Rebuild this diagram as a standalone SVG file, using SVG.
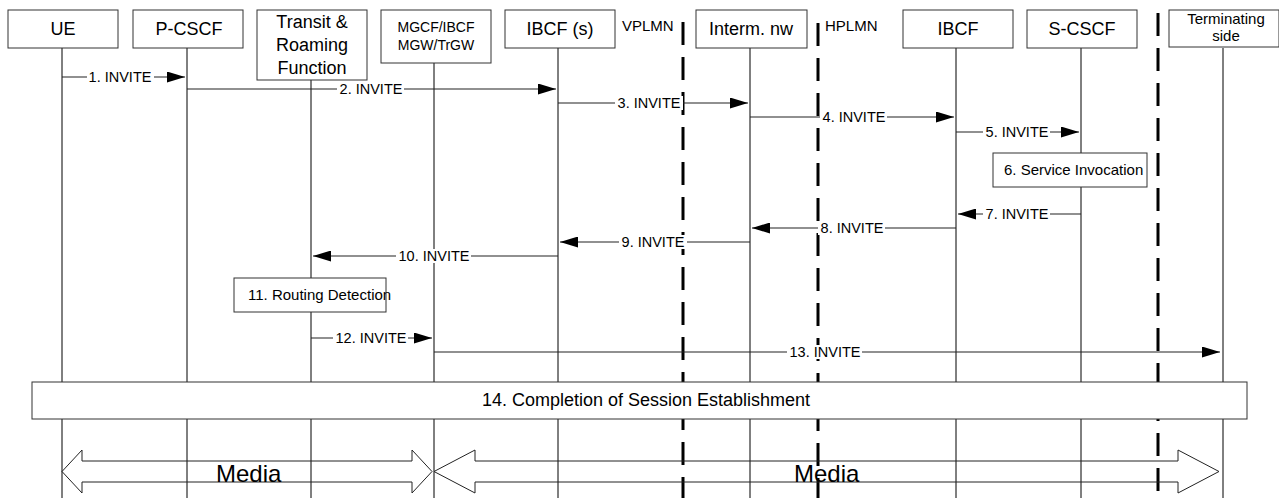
<svg xmlns="http://www.w3.org/2000/svg" width="1279" height="498" viewBox="0 0 1279 498">
<defs>
<style>
.box{fill:#fff;stroke:#333;stroke-width:1}
.life{stroke:#000;stroke-width:1}
.dash{stroke:#000;stroke-width:3;stroke-dasharray:23 12}
.msg{stroke:#222;stroke-width:1.2;fill:none}
.lbg{fill:#fff}
.t17{font-family:"Liberation Sans",Arial,sans-serif;font-size:18px;fill:#000;text-anchor:middle}
.t14{font-family:"Liberation Sans",Arial,sans-serif;font-size:14px;fill:#000;text-anchor:middle}
.t15{font-family:"Liberation Sans",Arial,sans-serif;font-size:15px;fill:#000}
.lbl{font-family:"Liberation Sans",Arial,sans-serif;font-size:14.5px;fill:#000;text-anchor:middle}
.media{font-family:"Liberation Sans",Arial,sans-serif;font-size:24px;fill:#000}
.marrow{fill:none;stroke:#222;stroke-width:1}
</style>
<marker id="ah" markerUnits="userSpaceOnUse" markerWidth="18" markerHeight="11" refX="18" refY="5.5" orient="auto">
<path d="M0,0 L18,5.5 L0,11 z" fill="#000"/>
</marker>
</defs>
<rect width="1279" height="498" fill="#fff"/>

<g id="lifelines">
<line class="life" x1="62" y1="48" x2="62" y2="498"/>
<line class="life" x1="187" y1="48" x2="187" y2="498"/>
<line class="life" x1="311" y1="80" x2="311" y2="498"/>
<line class="life" x1="434" y1="63" x2="434" y2="498"/>
<line class="life" x1="558" y1="48" x2="558" y2="498"/>
<line class="life" x1="750" y1="48" x2="750" y2="498"/>
<line class="life" x1="956" y1="48" x2="956" y2="498"/>
<line class="life" x1="1081" y1="48" x2="1081" y2="498"/>
<line class="life" x1="1223" y1="48" x2="1223" y2="498"/>
</g>

<g id="boundaries">
<line class="dash" x1="683" y1="22" x2="683" y2="498"/>
<line class="dash" x1="818" y1="23" x2="818" y2="498"/>
<line class="dash" x1="1158" y1="13" x2="1158" y2="498"/>
<text class="t15" x="622" y="31">VPLMN</text>
<text class="t15" x="825" y="31">HPLMN</text>
</g>

<g id="connectors">
<line class="msg" x1="62" y1="77" x2="185" y2="77" marker-end="url(#ah)"/>
<rect class="lbg" x="87" y="70" width="67" height="14"/>
<text class="lbl" x="120" y="82">1. INVITE</text>

<line class="msg" x1="187" y1="89" x2="556" y2="89" marker-end="url(#ah)"/>
<rect class="lbg" x="337" y="82" width="67" height="14"/>
<text class="lbl" x="371" y="94">2. INVITE</text>

<line class="msg" x1="558" y1="103" x2="748" y2="103" marker-end="url(#ah)"/>
<rect class="lbg" x="615" y="96" width="68" height="14"/>
<text class="lbl" x="649" y="108">3. INVITE</text>

<line class="msg" x1="750" y1="117" x2="954" y2="117" marker-end="url(#ah)"/>
<rect class="lbg" x="820" y="110" width="67" height="14"/>
<text class="lbl" x="854" y="122">4. INVITE</text>

<line class="msg" x1="956" y1="132" x2="1079" y2="132" marker-end="url(#ah)"/>
<rect class="lbg" x="983" y="125" width="67" height="14"/>
<text class="lbl" x="1017" y="137">5. INVITE</text>

<line class="msg" x1="1081" y1="214" x2="958" y2="214" marker-end="url(#ah)"/>
<rect class="lbg" x="983" y="207" width="67" height="14"/>
<text class="lbl" x="1017" y="219">7. INVITE</text>

<line class="msg" x1="956" y1="228" x2="752" y2="228" marker-end="url(#ah)"/>
<rect class="lbg" x="818" y="221" width="67" height="14"/>
<text class="lbl" x="852" y="233">8. INVITE</text>

<line class="msg" x1="750" y1="242" x2="560" y2="242" marker-end="url(#ah)"/>
<rect class="lbg" x="619" y="235" width="68" height="14"/>
<text class="lbl" x="653" y="247">9. INVITE</text>

<line class="msg" x1="558" y1="256" x2="313" y2="256" marker-end="url(#ah)"/>
<rect class="lbg" x="396" y="249" width="75" height="14"/>
<text class="lbl" x="434" y="261">10. INVITE</text>

<line class="msg" x1="311" y1="338" x2="432" y2="338" marker-end="url(#ah)"/>
<rect class="lbg" x="333" y="331" width="75" height="14"/>
<text class="lbl" x="371" y="343">12. INVITE</text>

<line class="msg" x1="434" y1="352" x2="1220" y2="352" marker-end="url(#ah)"/>
<rect class="lbg" x="787" y="345" width="75" height="14"/>
<text class="lbl" x="825" y="357">13. INVITE</text>

<polygon class="marrow" points="62,471.5 82,450 82,461 412,461 412,450 432,471.5 412,493 412,482 82,482 82,493"/>
<polygon class="marrow" points="434,471.5 475,450 475,461 1178,461 1178,450 1219,471.5 1178,493 1178,482 475,482 475,493"/>
<text class="media" x="216" y="482">Media</text>
<text class="media" x="794" y="482">Media</text>
</g>

<g id="node-ue">
<rect class="box" x="8" y="10" width="110" height="38"/>
<text class="t17" x="63" y="35">UE</text>
</g>
<g id="node-pcscf">
<rect class="box" x="133" y="10" width="110" height="38"/>
<text class="t17" x="189" y="35">P-CSCF</text>
</g>
<g id="node-transit">
<rect class="box" x="257" y="10" width="110" height="70"/>
<text class="t17" x="312" y="28">Transit &amp;</text>
<text class="t17" x="312" y="51">Roaming</text>
<text class="t17" x="312" y="74">Function</text>
</g>
<g id="node-mgcf">
<rect class="box" x="381" y="10" width="110" height="53"/>
<text class="t14" x="436" y="32">MGCF/IBCF</text>
<text class="t14" x="436" y="50">MGW/TrGW</text>
</g>
<g id="node-ibcfs">
<rect class="box" x="505" y="10" width="110" height="38"/>
<text class="t17" x="560" y="35">IBCF (s)</text>
</g>
<g id="node-interm">
<rect class="box" x="696" y="10" width="111" height="38"/>
<text class="t17" x="751" y="35">Interm. nw</text>
</g>
<g id="node-ibcf">
<rect class="box" x="903" y="10" width="110" height="38"/>
<text class="t17" x="958" y="35">IBCF</text>
</g>
<g id="node-scscf">
<rect class="box" x="1027" y="10" width="110" height="38"/>
<text class="t17" x="1082" y="35">S-CSCF</text>
</g>
<g id="node-terminating">
<rect class="box" x="1169" y="10" width="110" height="37"/>
<text class="t14" x="1226" y="24" style="font-size:15px">Terminating</text>
<text class="t14" x="1226" y="41" style="font-size:15px">side</text>
</g>
<g id="node-service">
<rect class="box" x="993" y="153" width="154" height="34"/>
<text class="t14" x="1004" y="175" style="text-anchor:start;font-size:15px">6. Service Invocation</text>
</g>
<g id="node-routing">
<rect class="box" x="234" y="278" width="152" height="34"/>
<text class="t14" x="248" y="300" style="text-anchor:start;font-size:15px">11. Routing Detection</text>
</g>
<g id="node-completion">
<rect class="box" x="32" y="382" width="1215" height="37"/>
<text class="t17" x="646" y="406">14. Completion of Session Establishment</text>
</g>
</svg>
